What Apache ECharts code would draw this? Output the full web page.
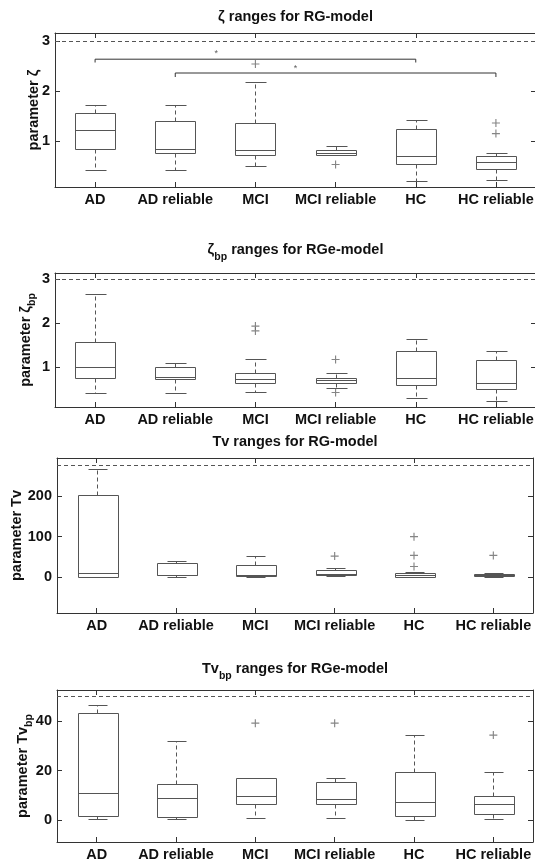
<!DOCTYPE html>
<html><head><meta charset="utf-8">
<script src="https://cdn.jsdelivr.net/npm/echarts@6/dist/echarts.min.js"></script>
<style>html,body{margin:0;padding:0;background:#fff}#c{width:535px;height:861px}</style>
</head><body><div id="c"></div>
<script>
// ---------------- data ----------------
const categories = ['AD', 'AD reliable', 'MCI', 'MCI reliable', 'HC', 'HC reliable'];
// [lower whisker, Q1, median, Q3, upper whisker] per category
const zetaStats = [
  [0.417, 0.834, 1.225, 1.556, 1.715],
  [0.417, 0.76, 0.84, 1.404, 1.715],
  [0.51, 0.715, 0.815, 1.36, 2.19],
  [0.715, 0.715, 0.77, 0.83, 0.91],
  [0.21, 0.536, 0.71, 1.245, 1.42],
  [0.214, 0.448, 0.588, 0.70, 0.76]
];
const zetaOutliers = [['MCI', 2.54], ['MCI reliable', 0.53], ['HC reliable', 1.36], ['HC reliable', 1.148]];
const zetaBpStats = [
  [0.417, 0.758, 1.0, 1.576, 2.667],
  [0.417, 0.727, 0.773, 1.0, 1.083],
  [0.44, 0.636, 0.727, 0.864, 1.18],
  [0.52, 0.636, 0.705, 0.758, 0.864],
  [0.288, 0.59, 0.75, 1.356, 1.63],
  [0.235, 0.5, 0.636, 1.167, 1.356]
];
const zetaBpOutliers = [['MCI', 1.93], ['MCI', 1.82], ['MCI reliable', 1.17], ['MCI reliable', 0.42]];
const tvStats = [
  [0, 1.6, 10.7, 203, 266],
  [0, 5, 6.6, 33.7, 40.3],
  [0, 4, 5, 28.8, 51],
  [4, 5, 8, 16.5, 23],
  [0, 1.6, 6.6, 10.7, 12.3],
  [1, 4, 6.6, 9, 10.7]
];
const tvOutliers = [['MCI reliable', 51.9], ['HC', 99.6], ['HC', 53.5], ['HC', 26.3], ['HC reliable', 53.5]];
const tvBpStats = [
  [0.4, 1.76, 11.0, 43.4, 46.4],
  [0.4, 1.5, 9.1, 14.8, 32],
  [0.7, 6.4, 9.8, 17.2, 17.2],
  [0.7, 6.4, 8.7, 15.6, 17.2],
  [0.1, 1.6, 7.5, 19.5, 34.4],
  [0.4, 2.6, 6.6, 9.8, 19.5]
];
const tvBpOutliers = [['MCI', 39.2], ['MCI reliable', 39.2], ['HC reliable', 34.4]];
const yTicksZeta = [1, 2, 3];
const yTicksZetaBp = [1, 2, 3];
const yTicksTv = [0, 100, 200];
const yTicksTvBp = [0, 20, 40];
const refLines = [3, 3, 276, 50];
// significance brackets: [from index, to index, top y, leg y]
const brackets = [[0, 4, 2.636, 2.57], [1, 5, 2.36, 2.28]];
const asteriskPos = [[1.51, 2.74], [2.5, 2.44]];
const titles = ['ζ ranges for RG-model', '{m|ζ}{s|bp}{m| ranges for RGe-model}', 'Tv ranges for RG-model', '{m|Tv}{s|bp}{m| ranges for RGe-model}'];
const yNames = ['parameter ζ', '{m|parameter ζ}{s|bp}', 'parameter Tv', '{m|parameter Tv}{s|bp}'];

// ---------------- layout ----------------
const FONT = '"Liberation Sans", Arial, Helvetica, sans-serif';
const panels = [
  {left: 55, width: 481, top: 33, height: 154, min: 0.08, max: 3.16, ticks: yTicksZeta, stats: zetaStats, out: zetaOutliers, nameGap: 14, titleY: 17},
  {left: 55, width: 481, top: 273, height: 134, min: 0.09, max: 3.136, ticks: yTicksZetaBp, stats: zetaBpStats, out: zetaBpOutliers, nameGap: 17, titleY: 252.5},
  {left: 57, width: 476, top: 458, height: 155, min: -88, max: 293, ticks: yTicksTv, stats: tvStats, out: tvOutliers, nameGap: 33, titleY: 442},
  {left: 57, width: 476, top: 690, height: 152, min: -8.8, max: 52.6, ticks: yTicksTvBp, stats: tvBpStats, out: tvBpOutliers, nameGap: 22, titleY: 671.5}
];
const frameColor = '#333';
const boxColor = '#555';
const textColor = '#111';

const richTok = {
  m: {fontSize: 14.5, fontWeight: 'bold', fontFamily: FONT, color: textColor, verticalAlign: 'top', lineHeight: 15},
  s: {fontSize: 10.5, fontWeight: 'bold', fontFamily: FONT, color: textColor, verticalAlign: 'bottom', lineHeight: 20}
};

function renderBox(params, api) {
  const i = api.value(0);
  const c = k => api.coord([i, api.value(k)]);
  const lo = c(1), q1 = c(2), md = c(3), q3 = c(4), hi = c(5);
  const band = api.size([1, 0])[0];
  const bw = band * 0.5, cw = band * 0.25;
  const cx = Math.round(lo[0]) + 0.5;
  const r = v => Math.round(v) + 0.5;
  const st = {stroke: boxColor, lineWidth: 1, fill: null};
  const dash = {stroke: boxColor, lineWidth: 1, lineDash: [4, 3], fill: null};
  const ch = [];
  if (r(hi[1]) < r(q3[1])) ch.push({type: 'line', shape: {x1: cx, y1: r(q3[1]), x2: cx, y2: r(hi[1])}, style: dash});
  if (r(lo[1]) > r(q1[1])) ch.push({type: 'line', shape: {x1: cx, y1: r(q1[1]), x2: cx, y2: r(lo[1])}, style: dash});
  ch.push({type: 'line', shape: {x1: r(cx - cw / 2), y1: r(hi[1]), x2: r(cx + cw / 2), y2: r(hi[1])}, style: st});
  ch.push({type: 'line', shape: {x1: r(cx - cw / 2), y1: r(lo[1]), x2: r(cx + cw / 2), y2: r(lo[1])}, style: st});
  ch.push({type: 'rect', shape: {x: r(cx - bw / 2), y: r(q3[1]), width: Math.round(bw), height: Math.max(1, r(q1[1]) - r(q3[1]))}, style: st});
  ch.push({type: 'line', shape: {x1: r(cx - bw / 2), y1: r(md[1]), x2: r(cx - bw / 2) + Math.round(bw), y2: r(md[1])}, style: st});
  return {type: 'group', children: ch};
}

const grid = [], xAxis = [], yAxis = [], series = [], graphic = [];
panels.forEach((p, k) => {
  grid.push({left: p.left, top: p.top, width: p.width, height: p.height, show: false, containLabel: false, outerBoundsMode: 'none'});
  const xb = xAxis.length;
  const axisLine = {show: true, onZero: false, lineStyle: {color: frameColor, width: 1}};
  xAxis.push({gridIndex: k, type: 'category', data: categories, position: 'bottom', boundaryGap: true,
    axisLine, axisTick: {show: true, inside: true, length: 5, alignWithLabel: true, lineStyle: {color: frameColor}},
    axisLabel: {interval: 0, margin: 5, fontSize: 14.5, fontWeight: 'bold', fontFamily: FONT, color: textColor},
    splitLine: {show: false}});
  xAxis.push({gridIndex: k, type: 'category', data: categories, position: 'top', boundaryGap: true,
    axisLine, axisTick: {show: true, inside: true, length: 5, alignWithLabel: true, lineStyle: {color: frameColor}},
    axisLabel: {show: false}, splitLine: {show: false}});
  const yl = yAxis.length;
  yAxis.push({gridIndex: k, type: 'value', position: 'left', min: p.min, max: p.max,
    axisLine, axisTick: {show: true, inside: true, length: 5, customValues: p.ticks, lineStyle: {color: frameColor}},
    axisLabel: {customValues: p.ticks, margin: 5, fontSize: 14.5, fontWeight: 'bold', fontFamily: FONT, color: textColor},
    splitLine: {show: false},
    name: yNames[k], nameLocation: 'middle', nameGap: p.nameGap, nameRotate: 90, nameMoveOverlap: false,
    nameTextStyle: {fontSize: 14.5, fontWeight: 'bold', fontFamily: FONT, color: textColor, rich: richTok}});
  yAxis.push({gridIndex: k, type: 'value', position: 'right', min: p.min, max: p.max,
    axisLine, axisTick: {show: true, inside: true, length: 5, customValues: p.ticks, lineStyle: {color: frameColor}},
    axisLabel: {show: false}, splitLine: {show: false}});
  series.push({type: 'custom', xAxisIndex: xb, yAxisIndex: yl, renderItem: renderBox,
    encode: {x: 0, y: [1, 2, 3, 4, 5]}, silent: true,
    data: p.stats.map((s, i) => [i].concat(s)), z: 3});
  series.push({type: 'scatter', xAxisIndex: xb, yAxisIndex: yl, silent: true,
    symbol: 'path://M0,3h7v1h-7z M3,0h1v7h-1z', symbolSize: 8,
    itemStyle: {color: '#666'}, data: p.out, z: 4,
    markLine: {silent: true, symbol: 'none', label: {show: false},
      lineStyle: {type: [4, 3], color: '#555', width: 1}, data: [{yAxis: refLines[k]}]}});
  graphic.push({type: 'text', x: p.left + p.width / 2, y: p.titleY, silent: true,
    style: {text: titles[k], align: 'center', verticalAlign: 'middle', fontSize: 14.5, fontWeight: 'bold', fontFamily: FONT, fill: textColor,
      rich: {m: {fontSize: 14.5, fontWeight: 'bold', fontFamily: FONT, fill: textColor, verticalAlign: 'top', lineHeight: 15},
             s: {fontSize: 10.5, fontWeight: 'bold', fontFamily: FONT, fill: textColor, verticalAlign: 'bottom', lineHeight: 20}}}});
});
// hidden value x axis for annotations in panel 1
const xv = xAxis.length;
xAxis.push({gridIndex: 0, type: 'value', min: -0.5, max: 5.5, show: false, axisLine: {onZero: false}});
brackets.forEach(b => {
  series.push({type: 'line', xAxisIndex: xv, yAxisIndex: 0, silent: true, symbol: 'none',
    lineStyle: {color: '#333', width: 1}, data: [[b[0], b[3]], [b[0], b[2]], [b[1], b[2]], [b[1], b[3]]], z: 2});
});
series.push({type: 'scatter', xAxisIndex: xv, yAxisIndex: 0, silent: true, symbolSize: 1,
  itemStyle: {color: 'rgba(0,0,0,0)'}, data: asteriskPos,
  label: {show: true, position: 'inside', formatter: '*', fontSize: 9, color: '#333', fontFamily: FONT}});

const chart = echarts.init(document.getElementById('c'), null, {renderer: 'canvas'});
chart.setOption({animation: false, backgroundColor: '#fff', grid, xAxis, yAxis, series, graphic});
</script></body></html>
